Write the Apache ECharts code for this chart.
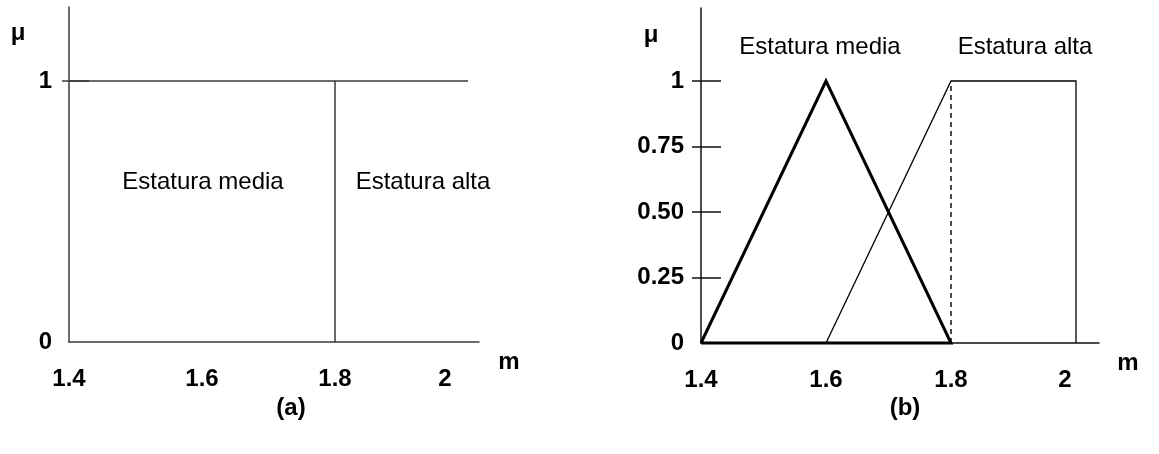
<!DOCTYPE html>
<html>
<head>
<meta charset="utf-8">
<script src="https://cdn.jsdelivr.net/npm/echarts@6/dist/echarts.min.js"></script>
<style>
  html, body { margin: 0; padding: 0; background: #fff; }
  #chart { width: 1159px; height: 454px; }
</style>
</head>
<body>
<div id="chart"></div>
<script>
// Height axis (metres), shared by both panels
const xTickValues = [1.4, 1.6, 1.8, 2];
const xTickLabels = ['1.4', '1.6', '1.8', '2'];

// Membership axis of panel (a): crisp sets
const yTickValuesA = [0, 1];
const yTickLabelsA = ['0', '1'];
const yTickMarksA = [1];

// Membership axis of panel (b): fuzzy sets
const yTickValuesB = [0, 0.25, 0.5, 0.75, 1];
const yTickLabelsB = ['0', '0.25', '0.50', '0.75', '1'];
const yTickMarksB = [0.25, 0.5, 0.75, 1];

// (a) crisp sets: both sets have membership 1, split at 1.8 m
const crispTop = [[1.4, 1], [2, 1]];
const crispBoundary = [[1.8, 0], [1.8, 1]];

// (b) fuzzy sets: triangular "media", ramp-then-flat "alta"
const mediaFuzzy = [[1.4, 0], [1.6, 1], [1.8, 0], [1.4, 0]];
const altaFuzzy = [[1.6, 0], [1.8, 1], [2, 1], [2, 0]];
const altaCore = [[1.8, 0], [1.8, 1]];

const FONT = "'Liberation Sans', Arial, Helvetica, sans-serif";
const AXIS_A = '#3a3a3a';
const AXIS_B = '#111';

function pick(values, labels, v) {
  for (let i = 0; i < values.length; i++) {
    if (Math.abs(values[i] - v) < 1e-9) return labels[i];
  }
  return '';
}

function xAxisFor(gridIndex, max, color, lastShift) {
  return {
    type: 'value', gridIndex, min: 1.4, max, position: 'bottom',
    axisLine: { show: true, onZero: false, lineStyle: { color, width: 1.5 } },
    axisTick: { show: false },
    splitLine: { show: false },
    axisLabel: {
      show: true, margin: 25, customValues: xTickValues,
      color: '#000', fontFamily: FONT, fontSize: 24, fontWeight: 'bold',
      formatter: v => {
        const t = pick(xTickValues, xTickLabels, v);
        return Math.abs(v - 2) < 1e-9 ? '{last|' + t + '}' : t;
      },
      rich: {
        last: { fontFamily: FONT, fontSize: 24, fontWeight: 'bold', color: '#000',
                padding: [0, lastShift, 0, 0] }
      }
    }
  };
}

// each panel gets two y axes on the same scale and both on the left: one with
// outward ticks and labels, one with longer inward ticks, so the tick marks
// cross the axis line
function yAxesFor(gridIndex, max, color, values, labels, marks, outLen) {
  return [
    {
      type: 'value', gridIndex, min: 0, max, position: 'left', offset: 0,
      axisLine: { show: true, onZero: false, lineStyle: { color, width: 1.5 } },
      axisTick: { show: true, inside: false, length: outLen, customValues: marks,
                  lineStyle: { color, width: 1.5 } },
      splitLine: { show: false },
      axisLabel: {
        show: true, margin: 17, customValues: values,
        color: '#000', fontFamily: FONT, fontSize: 24, fontWeight: 'bold',
        formatter: v => pick(values, labels, v)
      }
    },
    {
      type: 'value', gridIndex, min: 0, max, position: 'left', offset: 0,
      axisLine: { show: false, onZero: false },
      axisTick: { show: true, inside: true, length: 20, customValues: marks,
                  lineStyle: { color, width: 1.5 } },
      splitLine: { show: false },
      axisLabel: { show: false }
    }
  ];
}

function txt(text, x, y, size, bold) {
  return {
    type: 'text', x, y, silent: true,
    style: {
      text, fill: '#000', align: 'center', verticalAlign: 'middle',
      font: (bold ? 'bold ' : '') + size + 'px ' + FONT
    }
  };
}

function line(name, data, xi, yi, color, width, dash) {
  return {
    name, type: 'line', xAxisIndex: xi, yAxisIndex: yi, data,
    showSymbol: false, symbol: 'none', clip: false, animation: false,
    lineStyle: { color, width, type: dash || 'solid', cap: 'butt', join: 'miter' },
    z: 3
  };
}

const chart = echarts.init(document.getElementById('chart'), null, { renderer: 'canvas' });

chart.setOption({
  backgroundColor: '#fff',
  animation: false,
  grid: [
    { left: 69, top: 7, width: 410, height: 335 },
    { left: 701, top: 8, width: 398, height: 335 }
  ],
  xAxis: [
    xAxisFor(0, 2.0165, AXIS_A, 46),
    xAxisFor(1, 2.0368, AXIS_B, 22)
  ],
  yAxis: [
    ...yAxesFor(0, 1.2835, AXIS_A, yTickValuesA, yTickLabelsA, yTickMarksA, 7),
    ...yAxesFor(1, 1.2786, AXIS_B, yTickValuesB, yTickLabelsB, yTickMarksB, 9)
  ],
  series: [
    line('Estatura (a) superior', crispTop, 0, 0, AXIS_A, 1.5),
    line('Límite 1.8', crispBoundary, 0, 0, AXIS_A, 1.5),
    line('Estatura media', mediaFuzzy, 1, 2, '#000', 3),
    line('Estatura alta', altaFuzzy, 1, 2, '#000', 1.3),
    line('Núcleo alta', altaCore, 1, 2, '#000', 1.4, [5, 4])
  ],
  graphic: [
    txt('μ', 18, 33, 24, true),
    txt('m', 509, 362, 24, true),
    txt('Estatura media', 203, 182, 24, false),
    txt('Estatura alta', 423, 182, 24, false),
    txt('(a)', 291, 408, 24, true),
    txt('μ', 651, 35, 24, true),
    txt('m', 1128, 363, 24, true),
    txt('Estatura media', 820, 47, 24, false),
    txt('Estatura alta', 1025, 47, 24, false),
    txt('(b)', 905, 408, 24, true)
  ]
});
</script>
</body>
</html>
